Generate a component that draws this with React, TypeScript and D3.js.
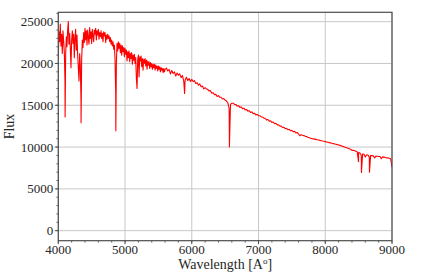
import React from "react";
import * as d3 from "d3";

const WIDTH = 436;
const HEIGHT = 273;

// Blue part of the spectrum, 4000-5600 A, one value every 10 A
const blueStart = 4000;
const blueStep = 10;
const blueFlux = [
  20800, 23800, 22600, 24700, 22100, 23500, 21200, 23900, 22700, 21400, // 4000
  18000, 21000, 23200, 22000, 24000, 25000, 22300, 23600, 21900, 19500, // 4100
  22800, 23900, 22400, 23500, 20700, 23000, 24100, 21600, 23400, 21000, // 4200
  19500, 17900, 21200, 19800, 15500, 20400, 22800, 21900, 23700, 22500, // 4300
  24200, 22800, 23900, 22200, 24000, 23100, 22300, 24300, 23000, 23800, // 4400
  22400, 24100, 23300, 22600, 24000, 23500, 24200, 22800, 23900, 23400, // 4500
  24100, 22900, 23700, 23200, 23900, 23000, 23600, 22600, 23800, 23300, // 4600
  23700, 22500, 23400, 22900, 23500, 23000, 23300, 22600, 23100, 22300, // 4700
  22800, 22100, 22600, 21700, 22200, 20500, 16500, 20000, 22400, 21500, // 4800
  22600, 21800, 22400, 21300, 22200, 21000, 22100, 21400, 21900, 20800, // 4900
  21800, 21100, 21600, 20300, 21400, 20700, 21500, 20200, 21200, 20600, // 5000
  21300, 19900, 21000, 20400, 21100, 20000, 20700, 18200, 17000, 20500, // 5100
  21000, 18400, 20800, 20300, 20900, 19600, 20600, 19200, 20500, 20000, // 5200
  20600, 19700, 20400, 19300, 20300, 19800, 20200, 19400, 20100, 19600, // 5300
  20000, 19300, 19900, 19500, 19900, 19200, 19800, 19400, 19700, 19100, // 5400
  19700, 19300, 19600, 19000, 19500, 19200, 19400, 18900, 19400, 19000, // 5500
  19300,
];

// Red part, 5620-9000 A, one value every 20 A
const redStart = 5620;
const redStep = 20;
const redFlux = [
  19450, 19100, 19300, 18750, 19150, 18800, 19000, 18500, 18850, 18600, // 5620
  18750, 18300, 18550, 17900, 18000, 18350, 17950, 18200, 17850, 18100, // 5820
  17850, 17950, 17600, 17700, 17400, 17550, 17200, 17300, 16950, 17100, // 6020
  16950, 16900, 16700, 16750, 16450, 16500, 16250, 16300, 16050, 16150, // 6220
  15950, 15950, 15750, 15800, 15600, 15500, 15300, 14600, 15100, 15250, // 6420
  15250, 15100, 15100, 14900, 14950, 14750, 14800, 14600, 14650, 14450, // 6620
  14500, 14300, 14350, 14150, 14200, 14000, 14050, 13850, 13900, 13750, // 6820
  13750, 13600, 13600, 13450, 13450, 13250, 13300, 13100, 13150, 12950, // 7020
  13000, 12800, 12850, 12650, 12650, 12500, 12500, 12350, 12350, 12200, // 7220
  12250, 12080, 12130, 11950, 12000, 11830, 11880, 11700, 11750, 11550, // 7420
  11350, 11480, 11420, 11370, 11300, 11250, 11180, 11130, 11050, 11000, // 7620
  10980, 10950, 10920, 10880, 10850, 10800, 10760, 10720, 10690, 10650, // 7820
  10610, 10570, 10530, 10500, 10450, 10410, 10370, 10330, 10290, 10250, // 8020
  10200, 10150, 10080, 10030, 9970, 9920, 9870, 9800, 9740, 9600, // 8220
  9620, 9560, 9500, 9400, 9350, 9280, 9000, 9180, 9150, 8800, // 8420
  9080, 9050, 8800, 9000, 8980, 8950, 8700, 8920, 8900, 8880, // 8620
  8870, 8600, 8830, 8800, 8760, 8700, 8720, 8650, 8600, 7600, // 8820
];

// Cores of the deep absorption lines
const lineWaves = [4102, 4341, 4862, 5892, 6564, 8498, 8542, 8662];
const lineFlux = [13600, 12900, 11950, 16400, 10000, 8250, 6950, 7000];

const xTicks = [4000, 5000, 6000, 7000, 8000, 9000];
const yTicks = [0, 5000, 10000, 15000, 20000, 25000];

const margin = { left: 58.3, right: 436 - 392, top: 12.3, bottom: 273 - 240.7 };

const App = () => {
  const spectrum: [number, number][] = [];
  blueFlux.forEach((f, i) => spectrum.push([blueStart + i * blueStep, f]));
  redFlux.forEach((f, i) => spectrum.push([redStart + i * redStep, f]));
  lineWaves.forEach((w, i) => spectrum.push([w, lineFlux[i]]));
  spectrum.sort((a, b) => a[0] - b[0]);

  const x = d3
    .scaleLinear()
    .domain([4000, 9000])
    .range([margin.left, WIDTH - margin.right]);
  const y = d3
    .scaleLinear()
    .domain([-1200, 26120])
    .range([HEIGHT - margin.bottom, margin.top]);

  const line = d3
    .line<[number, number]>()
    .x((d) => x(d[0]))
    .y((d) => y(d[1]));

  const x0 = x.range()[0];
  const x1 = x.range()[1];
  const y0 = y.range()[0];
  const y1 = y.range()[1];

  const xMinor = d3.range(4000, 9001, 200);
  const yMinor = d3.range(0, 26001, 1000);

  const font = "'Liberation Serif', 'DejaVu Serif', serif";
  const textColor = "#262626";
  const spine = "#4d4d4d";

  return (
    <svg
      width={WIDTH}
      height={HEIGHT}
      style={{ position: "absolute", left: 0, top: 0, background: "#fff" }}
    >
      <defs>
        <clipPath id="plot-clip">
          <rect x={x0} y={y1} width={x1 - x0} height={y0 - y1} />
        </clipPath>
      </defs>

      {/* grid */}
      {xTicks.map((t) => (
        <line
          key={"gx" + t}
          x1={x(t)}
          x2={x(t)}
          y1={y1}
          y2={y0}
          stroke="#c8c8c8"
          strokeWidth={1}
        />
      ))}
      {yTicks.map((t) => (
        <line
          key={"gy" + t}
          x1={x0}
          x2={x1}
          y1={y(t)}
          y2={y(t)}
          stroke="#c8c8c8"
          strokeWidth={1}
        />
      ))}

      {/* spectrum */}
      <path
        d={line(spectrum) || ""}
        fill="none"
        stroke="#ff0000"
        strokeWidth={1.1}
        strokeLinejoin="round"
        clipPath="url(#plot-clip)"
      />

      {/* frame */}
      <rect
        x={x0}
        y={y1}
        width={x1 - x0}
        height={y0 - y1}
        fill="none"
        stroke={spine}
        strokeWidth={1.2}
      />

      {/* minor ticks */}
      {xMinor.map((t) => (
        <line
          key={"mx" + t}
          x1={x(t)}
          x2={x(t)}
          y1={y0}
          y2={y0 + 2}
          stroke={spine}
          strokeWidth={0.8}
        />
      ))}
      {yMinor
        .filter((t) => y(t) >= y1 && y(t) <= y0)
        .map((t) => (
          <line
            key={"my" + t}
            x1={x0 - 2}
            x2={x0}
            y1={y(t)}
            y2={y(t)}
            stroke={spine}
            strokeWidth={0.8}
          />
        ))}

      {/* major ticks and labels */}
      {xTicks.map((t) => (
        <g key={"tx" + t}>
          <line x1={x(t)} x2={x(t)} y1={y0} y2={y0 + 3.5} stroke={spine} strokeWidth={1} />
          <text
            x={x(t)}
            y={254}
            textAnchor="middle"
            fontFamily={font}
            fontSize={13}
            fill={textColor}
          >
            {t}
          </text>
        </g>
      ))}
      {yTicks.map((t) => (
        <g key={"ty" + t}>
          <line x1={x0 - 3.5} x2={x0} y1={y(t)} y2={y(t)} stroke={spine} strokeWidth={1} />
          <text
            x={x0 - 5}
            y={y(t)}
            dy="0.35em"
            textAnchor="end"
            fontFamily={font}
            fontSize={13}
            fill={textColor}
          >
            {t}
          </text>
        </g>
      ))}

      {/* axis labels */}
      <text
        x={(x0 + x1) / 2}
        y={269}
        textAnchor="middle"
        fontFamily={font}
        fontSize={14}
        fill={textColor}
      >
        Wavelength [A
        <tspan dy={-5} fontSize={9}>
          o
        </tspan>
        <tspan dy={5}>]</tspan>
      </text>
      <text
        transform={`translate(14, ${(y0 + y1) / 2}) rotate(-90)`}
        textAnchor="middle"
        fontFamily={font}
        fontSize={14}
        fill={textColor}
      >
        Flux
      </text>
    </svg>
  );
};

export default App;
